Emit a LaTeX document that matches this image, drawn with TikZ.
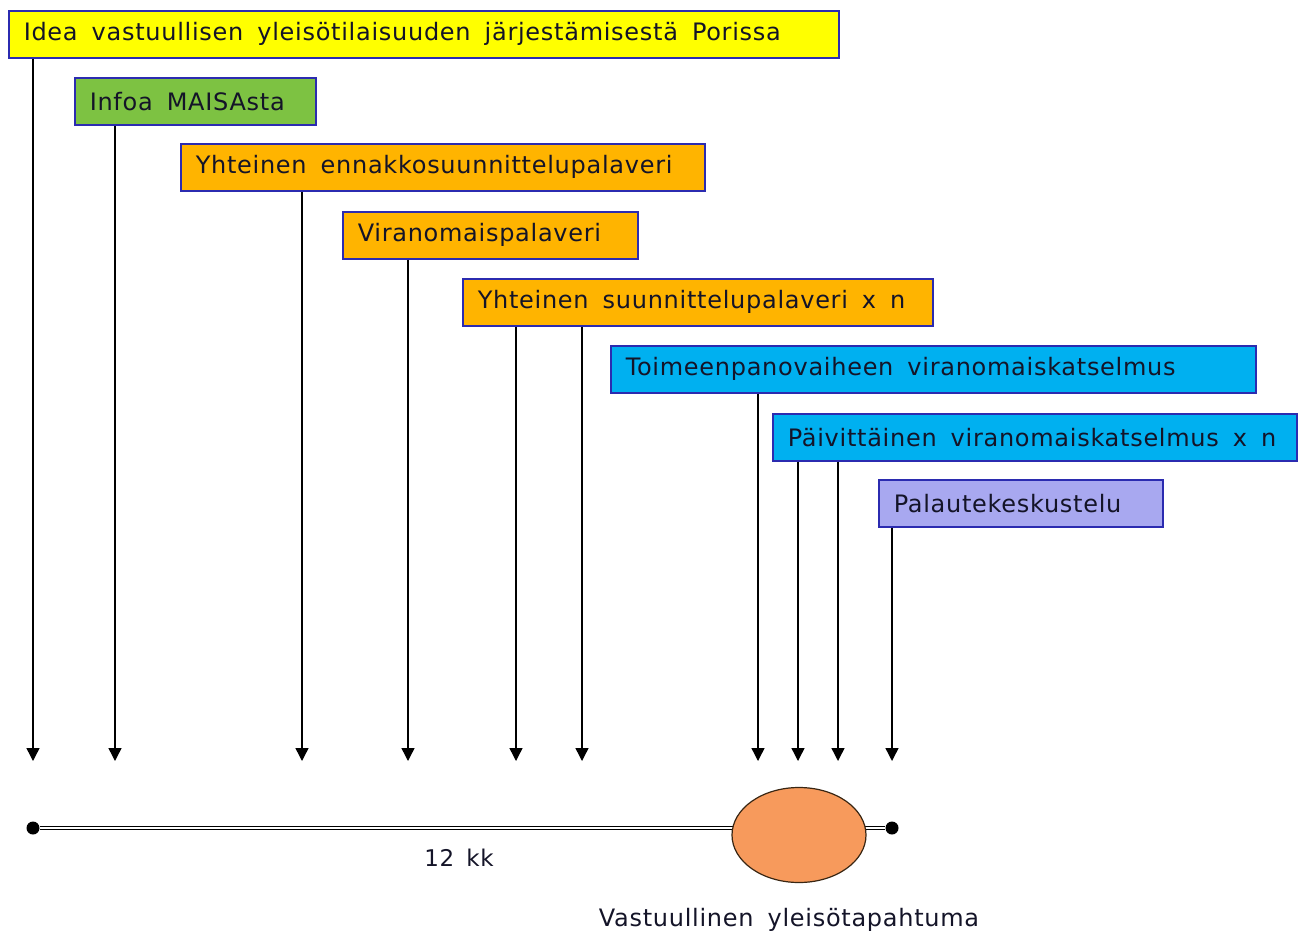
\documentclass[tikz,border=0pt]{standalone}
\usepackage{fontspec}
\setmainfont[LetterSpace=3]{DejaVu Sans}
\usetikzlibrary{arrows.meta,calc,shapes.geometric}
\definecolor{cyel}{HTML}{FFFF00}
\definecolor{cgreen}{HTML}{7DC242}
\definecolor{corange}{HTML}{FFB400}
\definecolor{cblue}{HTML}{00B0F0}
\definecolor{clav}{HTML}{A8A8F0}
\definecolor{cborder}{HTML}{2B2BB0}
\definecolor{cell}{HTML}{F79A5C}
\definecolor{ctext}{HTML}{141428}
\newcommand{\wideA}{\fontsize{24}{26}\selectfont\spaceskip=14pt plus 2pt\relax}
\newcommand{\wideB}{\fontsize{23}{25}\selectfont\spaceskip=12pt plus 2pt\relax}
\newcommand{\wideC}{\fontsize{24}{26}\selectfont\spaceskip=14pt plus 2pt\relax}
\tikzset{
  box/.style={draw=cborder, line width=1.5pt, anchor=north west, minimum height=47pt,
    inner xsep=15pt, inner ysep=0pt, align=left, text=ctext, font=\wideA},
  arr/.style={line width=1.4pt, -{Triangle[width=13pt,length=13pt]}},
  tl/.style={draw=black, line width=1pt, double=white, double distance=2pt},
  dot/.style={circle, fill=black, inner sep=0pt, minimum size=13pt},
}
\newcommand{\bx}[6]{% name, x1, y1, x2, color, text
  \node[box, fill=#5, minimum width={#4-#2}, text width={#4-#2-30}] (#1) at (#2,#3) {\wideA #6};}
\begin{document}
\begin{tikzpicture}[x=1pt,y=-1pt]
\useasboundingbox (0,0) rectangle (1301,935);
\bx{b1}{8}{10}{838}{cyel}{Idea vastuullisen yleisötilaisuuden järjestämisestä Porissa}
\bx{b2}{74}{77}{315}{cgreen}{Infoa MAISAsta}
\bx{b3}{180}{143}{704}{corange}{Yhteinen ennakkosuunnittelupalaveri}
\bx{b4}{342}{211}{637}{corange}{Viranomaispalaveri}
\bx{b5}{462}{278}{932}{corange}{Yhteinen suunnittelupalaveri x n}
\bx{b6}{610}{345}{1255}{cblue}{Toimeenpanovaiheen viranomaiskatselmus}
\bx{b7}{772}{413}{1296}{cblue}{Päivittäinen viranomaiskatselmus x n}
\bx{b8}{878}{479}{1162}{clav}{Palautekeskustelu}
% arrow tips
\foreach \n/\x in {a1/33,a2/115,a3/302,a4/408,a5/516,a6/582,a7/758,a8/798,a9/838,a10/892}
  \coordinate (\n) at (\x,761);
\draw[arr] (b1.south -| a1) -- (a1);
\draw[arr] (b2.south -| a2) -- (a2);
\draw[arr] (b3.south -| a3) -- (a3);
\draw[arr] (b4.south -| a4) -- (a4);
\draw[arr] (b5.south -| a5) -- (a5);
\draw[arr] (b5.south -| a6) -- (a6);
\draw[arr] (b6.south -| a7) -- (a7);
\draw[arr] (b7.south -| a8) -- (a8);
\draw[arr] (b7.south -| a9) -- (a9);
\draw[arr] (b8.south -| a10) -- (a10);
% timeline
\node[dot] (d1) at (33,828) {};
\node[dot] (d2) at (892,828) {};
\draw[tl] (d1) -- (d2);
\node[ellipse, draw=black!70!brown, line width=1.2pt, fill=cell, minimum width=134pt, minimum height=95pt, inner sep=0pt] (ev) at (799,835) {};
\node[text=ctext, font=\wideB] (kk) at (459,858) {12 kk};
\node[text=ctext, font=\wideC] (lbl) at (789,920) {Vastuullinen yleisötapahtuma};
\end{tikzpicture}
\end{document}
